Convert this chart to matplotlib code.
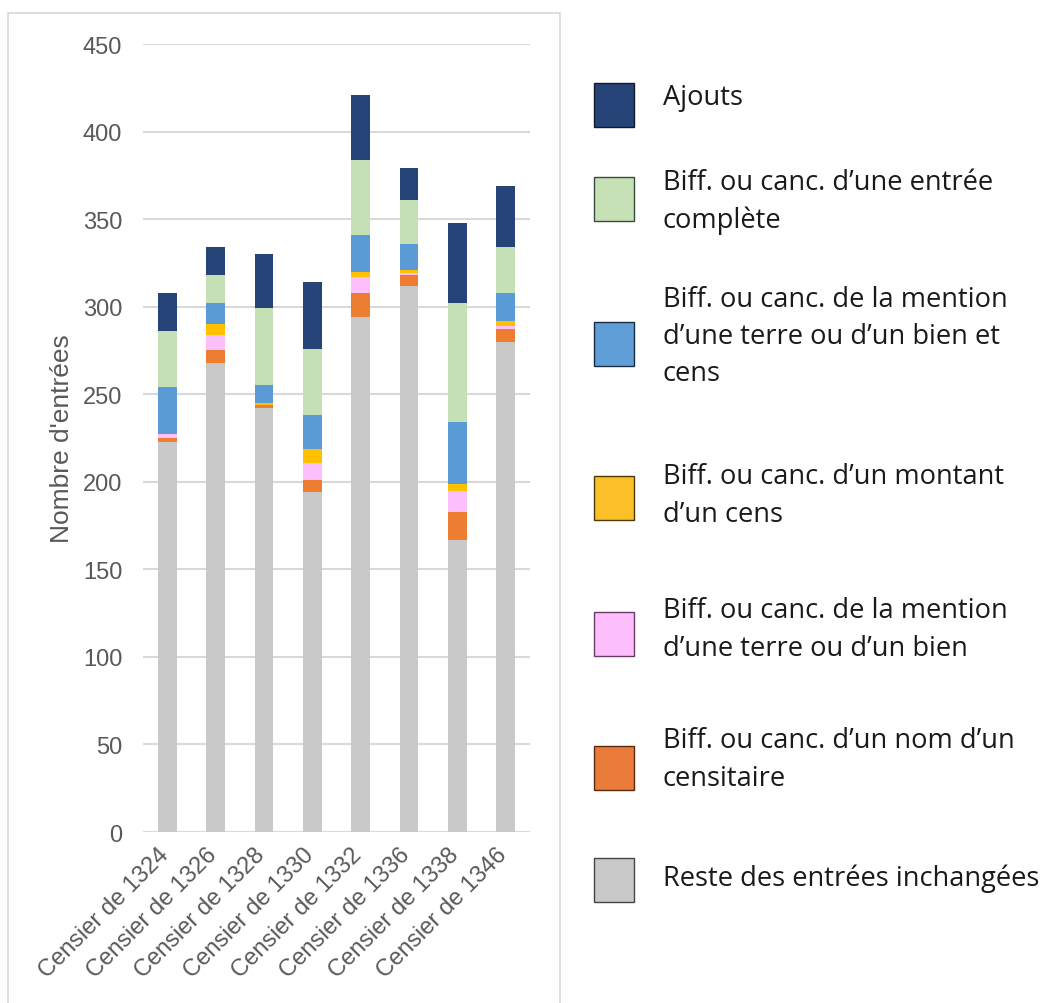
import matplotlib
matplotlib.use("Agg")
import matplotlib.pyplot as plt
from matplotlib.patches import Rectangle
from matplotlib.transforms import ScaledTranslation
import numpy as np

categories = ["Censier de 1324", "Censier de 1326", "Censier de 1328", "Censier de 1330",
              "Censier de 1332", "Censier de 1336", "Censier de 1338", "Censier de 1346"]

reste = [223, 268, 242, 194, 294, 312, 167, 280]
nom_censitaire = [2, 7, 2, 7, 14, 6, 16, 7]
terre_bien = [2, 9, 0, 10, 9, 1, 12, 2]
montant_cens = [0, 6, 1, 8, 3, 2, 4, 3]
terre_bien_cens = [27, 12, 10, 19, 21, 15, 35, 16]
entree_complete = [32, 16, 44, 38, 43, 25, 68, 26]
ajouts = [22, 16, 31, 38, 37, 18, 46, 35]

series_labels = [
    "Reste des entrées inchangées",
    "Biff. ou canc. d’un nom d’un\ncensitaire",
    "Biff. ou canc. de la mention\nd’une terre ou d’un bien",
    "Biff. ou canc. d’un montant\nd’un cens",
    "Biff. ou canc. de la mention\nd’une terre ou d’un bien et\ncens",
    "Biff. ou canc. d’une entrée\ncomplète",
    "Ajouts",
]
series_values = [reste, nom_censitaire, terre_bien, montant_cens,
                 terre_bien_cens, entree_complete, ajouts]
bar_colors = ["#C9C9C9", "#ED7D31", "#FCBFFC", "#FFC000", "#5B9BD5", "#C5E0B4", "#264478"]
legend_colors = ["#C9C9C9", "#E97C3B", "#FCBFFC", "#FBBF2A", "#5F9ED6", "#C7E1B6", "#264478"]
legend_edges = ["#444444", "#5a2a10", "#6a3a6a", "#4a3a00", "#1a2a40", "#3a4a3a", "#111a2a"]

W, H = 1046, 1004
fig = plt.figure(figsize=(W / 100, H / 100), dpi=100)

# outer border of chart area
fig.patches.append(Rectangle((8 / W, -0.02), (560 - 8) / W, 1 - 14 / H + 0.02,
                             transform=fig.transFigure, fill=False,
                             edgecolor="#D9D9D9", linewidth=1.2))

ax = fig.add_axes([143 / W, 1 - 833 / H, (530 - 143) / W, (833 - 45) / H])
x = np.arange(len(categories))
bottom = np.zeros(len(categories))
for vals, col in zip(series_values, bar_colors):
    ax.bar(x, vals, width=0.39, bottom=bottom, color=col, edgecolor="none", zorder=3)
    bottom += np.array(vals)

ax.set_xlim(-0.5, len(categories) - 0.5)
ax.set_ylim(0, 450)
ax.set_yticks(np.arange(0, 451, 50))
ax.yaxis.grid(True, color="#D9D9D9", linewidth=1.5, zorder=0)
ax.set_axisbelow(True)
for s in ax.spines.values():
    s.set_visible(False)
ax.tick_params(axis="both", length=0, labelsize=17, labelcolor="#595959")
ax.tick_params(axis="y", pad=15)
ax.set_xticks(x)
ax.set_xticklabels(categories, rotation=45, ha="right", va="top",
                   rotation_mode="anchor", fontsize=17, color="#595959")
ax.tick_params(axis="x", pad=8)
offset = ScaledTranslation(-10 / 100, 0, fig.dpi_scale_trans)
for lab in ax.get_xticklabels():
    lab.set_transform(lab.get_transform() + offset)
for lab in ax.get_yticklabels() + ax.get_xticklabels():
    lab.set_fontfamily("Liberation Sans")
ax.set_ylabel("Nombre d'entrées", fontsize=19, color="#595959",
              fontfamily="Liberation Sans", labelpad=6)

# legend (manual, matching the reference layout)
patch_centers = [881, 769, 635, 499, 345, 200, 106]
text_centers = [879, 760, 630, 496, 337, 202, 98]
for lab, col, ec, pc, tc in zip(series_labels, legend_colors, legend_edges,
                                 patch_centers, text_centers):
    pw, ph = 40, 44
    fig.patches.append(Rectangle((594 / W, 1 - (pc + ph / 2) / H), pw / W, ph / H,
                                 transform=fig.transFigure, facecolor=col,
                                 edgecolor=ec, linewidth=1.0))
    fig.text(663 / W, 1 - tc / H, lab, ha="left", va="center", fontsize=19.6,
             color="#1A1A1A", fontfamily="Open Sans", linespacing=1.45)

fig.savefig("out.png", dpi=100, facecolor="white")
